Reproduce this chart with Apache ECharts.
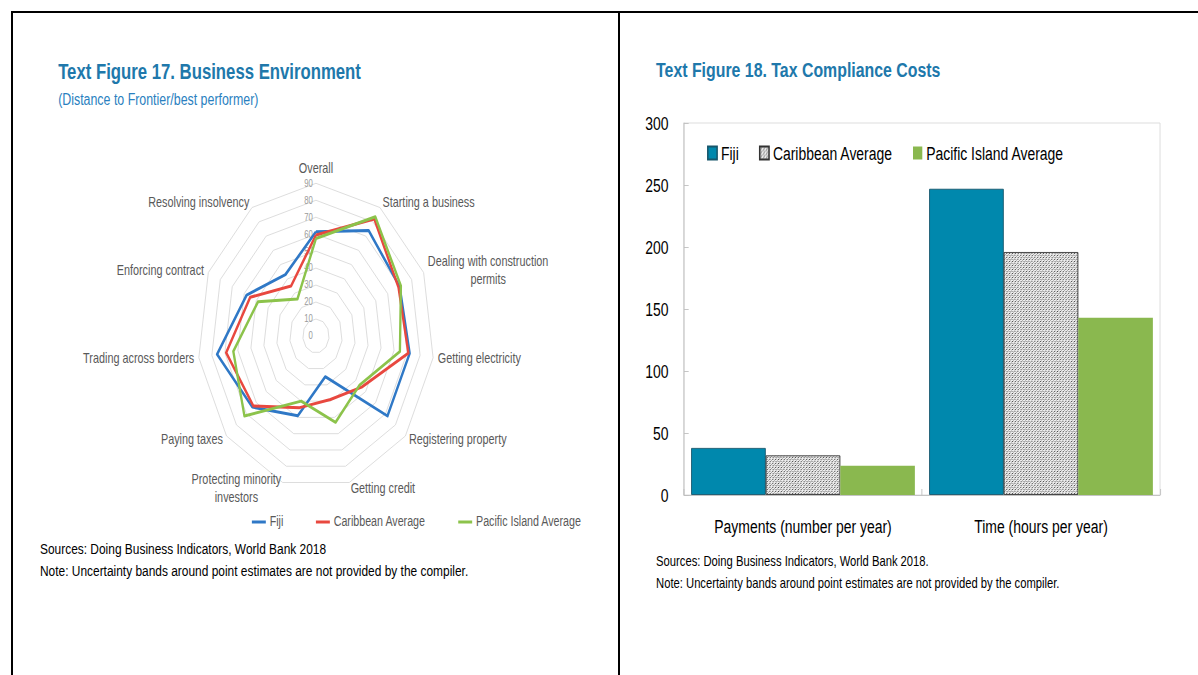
<!DOCTYPE html>
<html>
<head>
<meta charset="utf-8">
<script src="https://cdn.jsdelivr.net/npm/echarts@6/dist/echarts.min.js"></script>
<style>
html,body{margin:0;padding:0;background:#fff;overflow:hidden;width:1198px;height:675px;}
#wrap{position:absolute;left:0;top:0;width:1546px;height:675px;transform:scaleX(0.775);transform-origin:0 0;}
#left{position:absolute;left:0;top:0;width:800px;height:675px;}
#right{position:absolute;left:800px;top:0;width:746px;height:675px;}
.ln{position:absolute;background:#000;}
</style>
</head>
<body>
<div id="wrap"><div id="left"></div><div id="right"></div></div>
<div class="ln" style="left:11px;top:11px;width:1187px;height:2px;"></div>
<div class="ln" style="left:11px;top:11px;width:2px;height:664px;"></div>
<div class="ln" style="left:618px;top:11px;width:2px;height:664px;"></div>
<script>
// ---------- data ----------
const radarIndicators = ['Overall', 'Starting a business', 'Dealing with construction\npermits', 'Getting electricity',
  'Registering property', 'Getting credit', 'Protecting minority\ninvestors', 'Paying taxes',
  'Trading across borders', 'Enforcing contract', 'Resolving insolvency'];
const fijiRadar = [61.5, 74, 70, 72, 72, 25, 49, 64, 76, 58, 43];
const caribbeanRadar = [59.5, 82, 69, 71, 46, 39, 44, 63, 69, 55, 35];
const pacificRadar = [57.5, 83.5, 71, 64.5, 44, 53, 40, 72, 63.5, 48.5, 26];
const radarMax = 90;
const radarSplits = 9;

const barCategories = ['Payments (number per year)', 'Time (hours per year)'];
const fijiBar = [38, 247];
const caribbeanBar = [32, 196];
const pacificBar = [23.5, 143];
const barYMin = 0, barYMax = 300, barYInterval = 50;

const seriesNames = ['Fiji', 'Caribbean Average', 'Pacific Island Average'];

// ---------- styles ----------
const FONT = '"Liberation Sans", Arial, sans-serif';
const TITLE_BLUE = '#2078ab';
const radarColors = ['#2f78c6', '#e8483f', '#8cc34b'];

// ---------- left: radar ----------
const left = echarts.init(document.getElementById('left'), null, { renderer: 'svg' });
// ECharts places radar axes counter-clockwise; reference reads clockwise from top
const order = [0].concat(radarIndicators.map((_, i) => i).slice(1).reverse());
const indicator = order.map((k, j) => {
  const o = { name: radarIndicators[k], min: 0, max: radarMax };
  if (j === 0) o.axisLabel = { show: true, fontSize: 10, color: '#9a9a9a', fontFamily: FONT, margin: 4 };
  return o;
});
const radarData = [fijiRadar, caribbeanRadar, pacificRadar].map((arr, i) => ({
  name: seriesNames[i],
  value: order.map(k => arr[k]),
  lineStyle: { color: radarColors[i], width: 3 },
  itemStyle: { color: radarColors[i] }
}));
left.setOption({
  animation: false,
  title: [
    { text: 'Text Figure 17. Business Environment', left: 75, top: 59, padding: 0,
      textStyle: { fontFamily: FONT, fontWeight: 'bold', fontSize: 21.6, lineHeight: 26, color: TITLE_BLUE } },
    { text: '(Distance to Frontier/best performer)', left: 75, top: 90, padding: 0,
      textStyle: { fontFamily: FONT, fontWeight: 'normal', fontSize: 16, lineHeight: 18, color: '#2a7fc0' } },
    { text: 'Sources: Doing Business Indicators, World Bank 2018', left: 51.6, top: 540, padding: 0,
      textStyle: { fontFamily: FONT, fontWeight: 'normal', fontSize: 15.4, lineHeight: 18, color: '#000' } },
    { text: 'Note: Uncertainty bands around point estimates are not provided by the compiler.', left: 51.6, top: 562, padding: 0,
      textStyle: { fontFamily: FONT, fontWeight: 'normal', fontSize: 15.4, lineHeight: 18, color: '#000' } }
  ],
  legend: {
    data: seriesNames, left: 325, top: 515, padding: 0,
    icon: 'rect', itemWidth: 18, itemHeight: 3, itemGap: 42,
    textStyle: { fontFamily: FONT, fontSize: 13.8, color: '#595959' }
  },
  radar: {
    center: [407.7, 336], radius: 152.7, startAngle: 90,
    shape: 'polygon', splitNumber: radarSplits,
    indicator: indicator,
    axisNameGap: 6, nameGap: 6,
    axisName: {
      color: '#595959', fontSize: 14, fontFamily: FONT,
      formatter: name => name.split('\n').map(l => '{c|' + l + '}').join('\n'),
      rich: { c: { align: 'center', color: '#595959', fontSize: 14, fontFamily: FONT, lineHeight: 18 } }
    },
    axisLine: { show: false },
    axisTick: { show: false },
    axisLabel: { show: false },
    splitLine: { lineStyle: { color: '#d9d9d9', width: 1 } },
    splitArea: { show: false }
  },
  series: [{ type: 'radar', symbol: 'none', data: radarData }]
});

// ---------- right: bars ----------
function makePattern() {
  const c = document.createElement('canvas');
  c.width = 4; c.height = 4;
  const g = c.getContext('2d');
  g.fillStyle = '#eeeeee'; g.fillRect(0, 0, 4, 4);
  g.fillStyle = '#4a4a4a';
  for (let i = 0; i < 4; i++) g.fillRect(i, 3 - i, 1, 1);
  g.fillStyle = '#a8a8a8';
  for (let i = 0; i < 4; i++) g.fillRect(i, (1 + i) % 4, 1, 1);
  return c;
}
const right = echarts.init(document.getElementById('right'), null, { renderer: 'svg' });
const barStyles = [
  { color: '#0088ad', borderColor: '#17566b', borderWidth: 1 },
  { color: { image: makePattern(), repeat: 'repeat', imageWidth: 4, imageHeight: 4 }, borderColor: '#333', borderWidth: 1 },
  { color: '#8ab84f', borderWidth: 0 }
];
right.setOption({
  animation: false,
  title: [
    { text: 'Text Figure 18. Tax Compliance Costs', left: 46.5, top: 57, padding: 0,
      textStyle: { fontFamily: FONT, fontWeight: 'bold', fontSize: 20.5, lineHeight: 25, color: TITLE_BLUE } },
    { text: 'Sources: Doing Business Indicators, World Bank 2018.', left: 46.5, top: 552, padding: 0,
      textStyle: { fontFamily: FONT, fontWeight: 'normal', fontSize: 14.5, lineHeight: 17, color: '#000' } },
    { text: 'Note: Uncertainty bands around point estimates are not provided by the compiler.', left: 46.5, top: 574, padding: 0,
      textStyle: { fontFamily: FONT, fontWeight: 'normal', fontSize: 14.5, lineHeight: 17, color: '#000' } }
  ],
  legend: {
    data: seriesNames, left: 112.3, top: 144, padding: 0,
    icon: 'rect', itemWidth: 12, itemHeight: 13, itemGap: 26,
    textStyle: { fontFamily: FONT, fontSize: 18, color: '#000' }
  },
  grid: { left: 82.6, width: 614.2, top: 123, bottom: 180, show: true, borderColor: '#d9d9d9', borderWidth: 1, containLabel: false },
  xAxis: {
    type: 'category', data: barCategories,
    axisLine: { lineStyle: { color: '#bfbfbf' } },
    axisTick: { show: true, inside: true, length: 6, lineStyle: { color: '#bfbfbf' } },
    axisLabel: { fontFamily: FONT, fontSize: 18, color: '#000', margin: 22 },
    splitLine: { show: false }
  },
  yAxis: {
    type: 'value', min: barYMin, max: barYMax, interval: barYInterval,
    axisLine: { show: true, lineStyle: { color: '#bfbfbf' } },
    axisTick: { show: true, inside: true, length: 6, lineStyle: { color: '#bfbfbf' } },
    axisLabel: { fontFamily: FONT, fontSize: 18, color: '#000', margin: 20 },
    splitLine: { show: false }
  },
  series: [fijiBar, caribbeanBar, pacificBar].map((d, i) => ({
    name: seriesNames[i], type: 'bar', data: d,
    barGap: '0%', barCategoryGap: '6%',
    itemStyle: barStyles[i]
  }))
});
</script>
</body>
</html>
